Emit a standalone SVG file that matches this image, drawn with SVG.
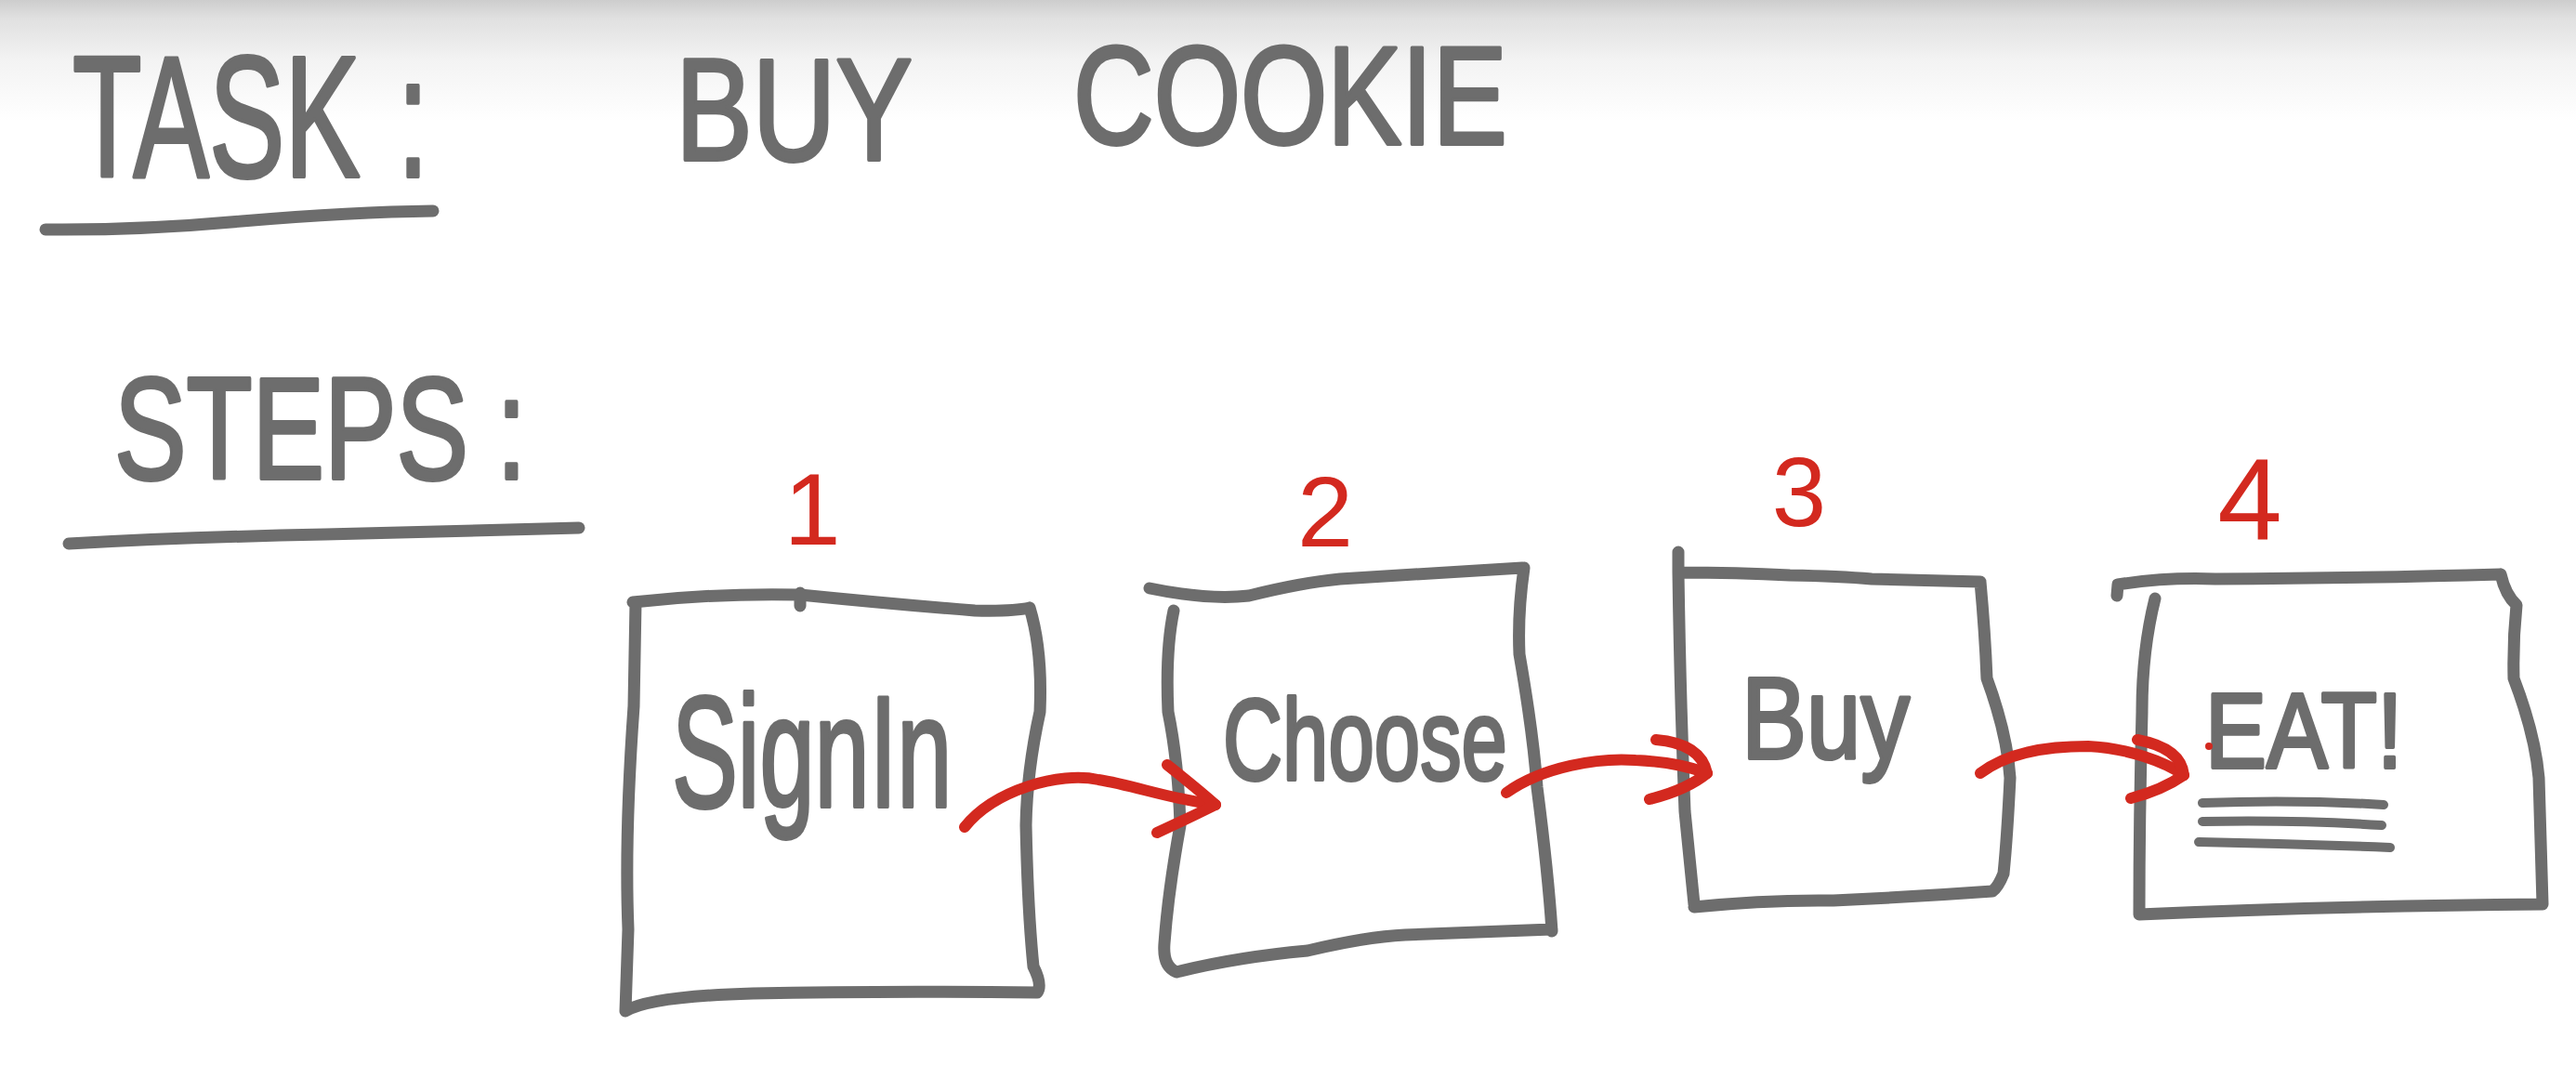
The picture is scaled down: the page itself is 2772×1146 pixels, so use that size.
<svg xmlns="http://www.w3.org/2000/svg" width="2772" height="1146" viewBox="0 0 2772 1146">
<defs>
<linearGradient id="topShade" x1="0" y1="0" x2="0" y2="1">
<stop offset="0" stop-color="#cdcdcd"/>
<stop offset="0.15" stop-color="#e0e0e0"/>
<stop offset="0.5" stop-color="#f3f3f3"/>
<stop offset="1" stop-color="#ffffff"/>
</linearGradient>
<style>
.ink{fill:none;stroke:#6d6d6d;stroke-width:13;stroke-linecap:round;stroke-linejoin:round}
.thin{fill:none;stroke:#6d6d6d;stroke-width:10;stroke-linecap:round}
.red{fill:none;stroke:#d3291f;stroke-width:12;stroke-linecap:round;stroke-linejoin:round}
.hand{font-family:"Liberation Sans","DejaVu Sans",sans-serif;fill:#6d6d6d;stroke:#6d6d6d;stroke-width:4;stroke-linejoin:round}
.num{font-family:"Liberation Sans","DejaVu Sans",sans-serif;fill:#d3291f;text-anchor:middle}
</style>
</defs>
<rect x="0" y="0" width="2772" height="1146" fill="#ffffff"/>
<rect x="0" y="0" width="2772" height="130" fill="url(#topShade)"/>

<g id="header">
<text class="hand" font-size="185" transform="translate(78,190) scale(0.66,1)">TASK<tspan dx="60">:</tspan></text>
<path class="ink" d="M 49 247 Q 150 248 260 238 Q 380 228 466 227"/>
<text class="hand" font-size="155" transform="translate(727,172) scale(0.8,1)">BUY</text>
<text class="hand" font-size="150" transform="translate(1155,155) scale(0.8,1)">COOKIE</text>
<text class="hand" font-size="155" transform="translate(123,515) scale(0.75,1)">STEPS<tspan dx="40">:</tspan></text>
<path class="ink" d="M 74 585 Q 200 578 350 575 Q 500 571 623 568"/>
</g>

<g id="node-1">
<text class="num" font-size="110" x="874" y="586">1</text>
<path class="ink" d="M 681 648 Q 770 638 861 640 Q 960 650 1049 657 Q 1090 658 1108 654 M 861 638 L 861 652 M 1108 654 Q 1122 700 1119 766 Q 1105 830 1104 888 Q 1106 980 1112 1040 Q 1122 1060 1116 1068 M 673 1088 Q 700 1072 810 1069 Q 950 1066 1116 1068 M 684 648 L 682 760 Q 672 900 676 1000 L 673 1088"/>
<text class="hand" font-size="170" transform="translate(723,868) scale(0.625,1)">SignIn</text>
</g>

<g id="node-2">
<text class="num" font-size="108" x="1426" y="588">2</text>
<path class="ink" d="M 1237 633 Q 1300 646 1344 641 Q 1400 627 1442 623 L 1638 611 M 1640 611 Q 1633 660 1635 704 Q 1650 790 1654 847 Q 1666 940 1670 1002 M 1266 1046 Q 1330 1030 1407 1023 Q 1470 1008 1512 1006 L 1670 1000 M 1263 657 Q 1254 700 1257 766 Q 1268 820 1270 888 Q 1257 960 1253 1015 Q 1251 1040 1266 1046"/>
<text class="hand" font-size="125" transform="translate(1316,839) scale(0.71,1)">Choose</text>
</g>

<g id="node-3">
<text class="num" font-size="105" x="1936" y="566">3</text>
<path class="ink" d="M 1806 594 L 1806 616 Q 1870 616 1926 619 Q 1980 620 2014 623 L 2131 626 M 2131 626 Q 2136 680 2138 730 Q 2160 790 2163 837 Q 2160 900 2156 940 Q 2150 955 2144 959 M 1823 976 Q 1900 968 1973 969 Q 2060 965 2144 959 M 1806 616 Q 1808 750 1813 873 L 1823 973"/>
<text class="hand" font-size="125" transform="translate(1874,816) scale(0.84,1)">Buy</text>
</g>

<g id="node-4">
<text class="num" font-size="125" x="2421" y="580">4</text>
<path class="ink" d="M 2278 641 L 2279 629 Q 2330 621 2384 623 Q 2550 622 2691 618 M 2691 618 Q 2696 640 2708 651 Q 2704 690 2705 730 Q 2728 790 2732 837 L 2736 973 M 2302 984 Q 2500 975 2736 973 M 2319 644 Q 2305 700 2305 766 Q 2302 880 2302 984"/>
<text class="hand" font-size="115" transform="translate(2373,826) scale(0.86,1)">EAT!</text>
<circle cx="2377" cy="803" r="4" fill="#d3291f"/>
<path class="thin" d="M 2370 864 Q 2470 860 2565 866 M 2370 884 Q 2470 882 2563 888 M 2366 906 Q 2470 908 2572 912"/>
</g>

<g id="connectors">
<path class="red" d="M 1038 890 C 1070 850 1140 830 1182 839 C 1220 845 1260 860 1308 866"/>
<path class="red" d="M 1256 823 Q 1290 850 1308 866 Q 1280 880 1245 896"/>
<path class="red" d="M 1621 853 C 1660 825 1720 815 1760 818 C 1800 820 1820 826 1837 832"/>
<path class="red" d="M 1782 796 Q 1830 800 1837 832 Q 1815 850 1775 860"/>
<path class="red" d="M 2131 832 C 2160 810 2200 803 2247 803 C 2290 805 2330 820 2350 834"/>
<path class="red" d="M 2300 796 Q 2347 805 2350 834 Q 2327 850 2293 859"/>
</g>
</svg>
